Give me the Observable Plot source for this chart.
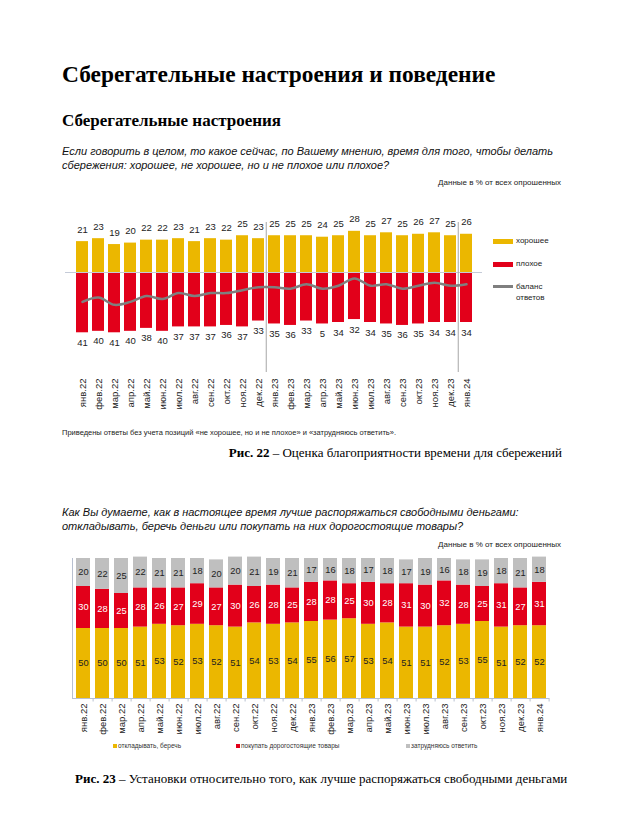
<!DOCTYPE html>
<html><head><meta charset="utf-8">
<script src="https://cdn.jsdelivr.net/npm/d3@7"></script>
<script src="https://cdn.jsdelivr.net/npm/@observablehq/plot@0.6"></script>
<style>
body{margin:0;background:#fff;}
#page{position:relative;width:627px;height:815px;overflow:hidden;font-family:"Liberation Sans",Arial,sans-serif;color:#000;background:#fff;}
.abs{position:absolute;white-space:nowrap;}
.serif{font-family:"Liberation Serif","Times New Roman",serif;}
.q{font-style:italic;font-size:11px;line-height:13.5px;color:#111;}
.small{font-size:8px;color:#222;}
.sw{position:absolute;}
.leg{font-size:8px;color:#222;}
.leg2{font-size:6.5px;color:#333;}
</style></head><body><div id="page">
<div class="abs serif" style="left:62px;top:61px;font-size:23.4px;font-weight:bold;">Сберегательные настроения и поведение</div>
<div class="abs serif" style="left:62px;top:111px;font-size:17px;font-weight:bold;">Сберегательные настроения</div>
<div class="abs q" style="left:62px;top:145px;">Если говорить в целом, то какое сейчас, по Вашему мнению, время для того, чтобы делать<br>сбережения: хорошее, не хорошее, но и не плохое или плохое?</div>
<div class="abs small" style="right:66px;top:178px;">Данные в % от всех опрошенных</div>
<div id="c1" class="abs" style="left:60px;top:200px;"></div>
<div class="sw" style="left:493px;top:239px;width:20px;height:5px;background:#EBB700"></div>
<div class="abs leg" style="left:516px;top:236px;">хорошее</div>
<div class="sw" style="left:493px;top:262px;width:20px;height:5px;background:#E2001A"></div>
<div class="abs leg" style="left:516px;top:259px;">плохое</div>
<div class="sw" style="left:493px;top:285px;width:20px;height:3px;background:#7f7f7f"></div>
<div class="abs leg" style="left:516px;top:281px;line-height:11px;">баланс<br>ответов</div>
<div class="abs" style="left:62px;top:428px;font-size:7.5px;color:#222;">Приведены ответы без учета позиций «не хорошее, но и не плохое» и «затрудняюсь ответить».</div>
<div class="abs serif" style="right:65px;top:445px;font-size:13px;"><b>Рис. 22</b> – Оценка благоприятности времени для сбережений</div>
<div class="abs q" style="left:62px;top:506px;">Как Вы думаете, как в настоящее время лучше распоряжаться свободными деньгами:<br>откладывать, беречь деньги или покупать на них дорогостоящие товары?</div>
<div class="abs small" style="right:66px;top:540px;">Данные в % от всех опрошенных</div>
<div id="c2" class="abs" style="left:60px;top:550px;"></div>
<div class="sw" style="left:113px;top:744px;width:4px;height:4px;background:#EBB700"></div>
<div class="abs leg2" style="left:118px;top:742px;">откладывать, беречь</div>
<div class="sw" style="left:236px;top:744px;width:4px;height:4px;background:#E2001A"></div>
<div class="abs leg2" style="left:241px;top:742px;">покупать дорогостоящие товары</div>
<div class="sw" style="left:406px;top:744px;width:4px;height:4px;background:#BFBFBF"></div>
<div class="abs leg2" style="left:411px;top:742px;">затрудняюсь ответить</div>
<div class="abs serif" style="left:75px;top:771px;font-size:13px;"><b>Рис. 23</b> – Установки относительно того, как лучше распоряжаться свободными деньгами</div>
</div>
<script>
const months = ["янв.22","фев.22","мар.22","апр.22","май.22","июн.22","июл.22","авг.22","сен.22","окт.22","ноя.22","дек.22","янв.23","фев.23","мар.23","апр.23","май.23","июн.23","июл.23","авг.23","сен.23","окт.23","ноя.23","дек.23","янв.24"];
// Chart 1
const good = [21,23,19,20,22,22,23,21,23,22,25,23,25,25,25,24,25,28,25,27,25,26,27,25,26];
const bad = [41,40,41,40,38,40,37,37,37,36,37,33,35,36,33,35,34,32,34,35,36,35,34,34,34];
const badLabels = ["41","40","41","40","38","40","37","37","37","36","37","33","35","36","33","5","34","32","34","35","36","35","34","34","34"];
const balance = [-20,-17,-22,-20,-16,-18,-14,-16,-14,-14,-12,-10,-10,-11,-8,-11,-9,-4,-9,-8,-11,-9,-7,-9,-8];
const separators = ["янв.23","янв.24"];
// Chart 2
const save = [50,50,50,51,53,52,53,52,51,54,53,54,55,56,57,53,54,51,51,52,53,55,51,52,52];
const buy = [30,28,25,28,26,27,29,27,30,26,28,25,28,28,25,30,28,31,30,32,28,25,31,27,31];
const hard = [20,22,25,22,21,21,18,20,20,21,19,21,17,16,18,17,18,17,19,16,18,19,18,21,18];

const YEL = "#EBB700", RED = "#E2001A", GRY = "#BFBFBF";
const n = months.length;

const t1 = months.map((m,i)=>({m, good: good[i], bad: bad[i], badLabel: badLabels[i], bal: balance[i]}));
const W1 = 430, ml1 = 5, mr1 = 8, pad1 = 0.27;
const step1 = (W1 - ml1 - mr1) / (n - pad1 + 2*pad1);
const p1 = Plot.plot({
  width: W1, height: 215, marginLeft: ml1, marginRight: mr1, marginTop: 22, marginBottom: 43,
  x: {type: "band", domain: months, padding: pad1, label: null, tickRotate: -90, tickSize: 0, tickPadding: 6},
  y: {domain: [-68, 34], axis: null},
  style: {fontFamily: "Liberation Sans, Arial, sans-serif", fontSize: "9.5px", color: "#222", background: "transparent"},
  marks: [
    Plot.barY(t1, {x: "m", y1: 0, y2: "good", fill: YEL}),
    Plot.barY(t1, {x: "m", y1: 0, y2: d => -d.bad, fill: RED}),
    Plot.ruleY([0], {stroke: "#c5cbd8", strokeWidth: 1}),
    Plot.ruleX(separators, {x: d => d, dx: -step1/2, stroke: "#a6a6a6", strokeWidth: 1}),
    Plot.line(t1, {x: "m", y: "bal", stroke: "#7f7f7f", strokeWidth: 2.5, curve: "catmull-rom"}),
    Plot.text(t1, {x: "m", y: "good", text: d => String(d.good), dy: -12, fontSize: 9.5, fill: "#222"}),
    Plot.text(t1, {x: "m", y: d => -d.bad, text: "badLabel", dy: 10, fontSize: 9.5, fill: "#222"})
  ]
});
document.getElementById("c1").appendChild(p1);

const t2 = [];
months.forEach((m,i)=>{
  t2.push({m, k: "save", lo: 0, hi: save[i], v: save[i]});
  t2.push({m, k: "buy", lo: save[i], hi: save[i] + buy[i], v: buy[i]});
  t2.push({m, k: "hard", lo: save[i] + buy[i], hi: save[i] + buy[i] + hard[i], v: hard[i]});
});
const fillOf = {save: YEL, buy: RED, hard: GRY};
const textOf = {save: "#222", buy: "#fff", hard: "#222"};
const W2 = 500, ml2 = 12, mr2 = 11, pi2 = 0.27, po2 = 0.05;
const step2 = (W2 - ml2 - mr2) / (n - pi2 + 2*po2);
const marks2 = [];
for (const k of ["save","buy","hard"]) {
  const sub = t2.filter(d => d.k === k);
  marks2.push(Plot.barY(sub, {x: "m", y1: "lo", y2: "hi", fill: fillOf[k]}));
}
for (const k of ["save","buy","hard"]) {
  const sub = t2.filter(d => d.k === k);
  marks2.push(Plot.text(sub, {x: "m", y: d => (d.lo + d.hi) / 2, text: d => String(d.v), fill: textOf[k], fontSize: 9.3}));
}
marks2.push(Plot.ruleY([0], {stroke: "#b8c0d0"}));
marks2.push(Plot.frame({anchor: "left", stroke: "#b8c0d0"}));
marks2.push(Plot.ruleX(months, {x: d => d, dx: step2/2, y1: 0, y2: -2.5, stroke: "#b8c0d0"}));
const p2 = Plot.plot({
  width: W2, height: 190, marginLeft: ml2, marginRight: mr2, marginTop: 8, marginBottom: 42,
  x: {type: "band", domain: months, paddingInner: pi2, paddingOuter: po2, label: null, tickRotate: -90, tickSize: 0, tickPadding: 5},
  y: {domain: [0, 100], axis: null},
  style: {fontFamily: "Liberation Sans, Arial, sans-serif", fontSize: "9.5px", color: "#222", background: "transparent"},
  marks: marks2
});
document.getElementById("c2").appendChild(p2);
</script>
</body></html>
